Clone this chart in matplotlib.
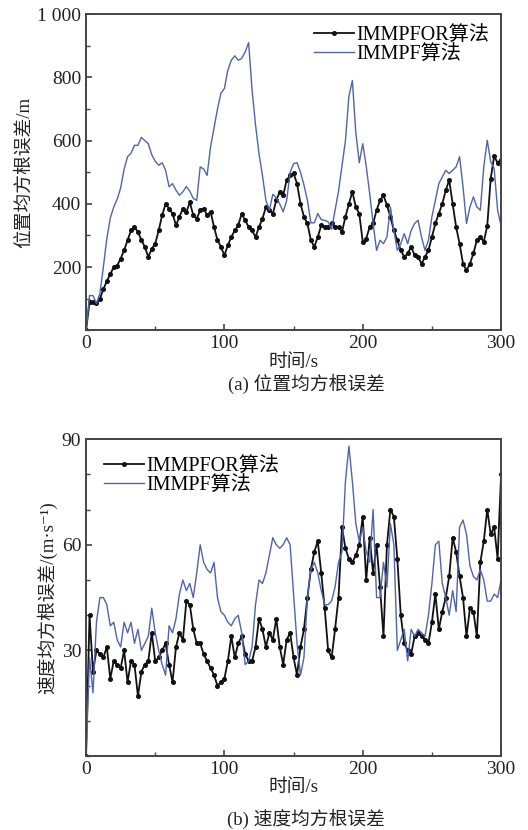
import numpy as np
import matplotlib
matplotlib.use("Agg")
import matplotlib.pyplot as plt
from matplotlib.ticker import MultipleLocator

plt.rcParams['font.family'] = ['Liberation Serif', 'Noto Sans CJK SC', 'DejaVu Sans']

# time axis, seconds (values read every 2.5 s)
t = np.arange(0, 300.1, 2.5)

# (a) position RMSE, m
pos_immpfor = [0, 90, 90, 85, 100, 130, 155, 178, 200, 205,
               227, 253, 285, 316, 327, 311, 285, 264, 232, 258,
               274, 316, 364, 400, 385, 369, 332, 359, 385, 374,
               405, 364, 353, 380, 385, 364, 375, 327, 285, 264,
               237, 269, 295, 316, 332, 369, 348, 327, 316, 295,
               327, 353, 390, 380, 369, 411, 438, 427, 475, 490,
               496, 464, 401, 359, 338, 285, 264, 295, 332, 327,
               327, 338, 327, 327, 311, 359, 400, 438, 390, 369,
               280, 290, 327, 338, 380, 411, 427, 395, 359, 316,
               285, 253, 232, 243, 264, 237, 232, 211, 232, 253,
               295, 338, 369, 400, 443, 475, 400, 327, 274, 211,
               190, 211, 243, 285, 295, 280, 330, 480, 550, 530,
               540]
pos_immpf = [0, 110, 110, 85, 116, 200, 290, 355, 390, 415,
             450, 510, 549, 560, 585, 585, 610, 600, 590, 555,
             535, 522, 530, 506, 454, 464, 443, 427, 438, 455,
             440, 417, 411, 517, 510, 490, 580, 640, 700, 750,
             765, 823, 854, 868, 854, 860, 880, 910, 760, 650,
             559, 490, 411, 380, 430, 420, 400, 375, 410, 500,
             527, 530, 500, 460, 411, 340, 340, 369, 350, 348,
             343, 320, 380, 440, 520, 600, 740, 790, 625, 530,
             590, 520, 433, 338, 253, 285, 274, 295, 390, 316,
             253, 274, 306, 274, 316, 338, 348, 295, 253, 285,
             359, 411, 464, 485, 506, 496, 506, 517, 549, 454,
             338, 390, 422, 390, 380, 517, 601, 533, 512, 380,
             330]

# (b) velocity RMSE, m/s
vel_immpfor = [0, 40, 24, 30, 29, 28, 31, 22, 27, 26,
               25, 30, 21, 27, 26, 17, 24, 26, 27, 35,
               27, 28, 30, 32, 26, 21, 31, 35, 33, 44,
               43, 36, 32, 32, 29, 27, 25, 23, 20, 21,
               22, 27, 34, 28, 32, 34, 29, 27, 27, 31,
               39, 36, 31, 35, 33, 39, 31, 26, 33, 35,
               28, 23, 31, 36, 45, 53, 58, 61, 52, 42,
               30, 28, 36, 45, 65, 59, 56, 55, 57, 60,
               68, 50, 62, 52, 60, 48, 34, 60, 70, 68,
               56, 40, 32, 30, 29, 34, 35, 34, 33, 32,
               38, 46, 36, 41, 45, 51, 62, 58, 51, 45,
               34, 42, 41, 34, 55, 61, 70, 63, 65, 56,
               80]
vel_immpf = [0, 28, 18, 38, 45, 45, 43, 37, 38, 33,
             31, 38, 35, 38, 32, 36, 30, 32, 34, 42,
             35, 30, 26, 23, 37, 35, 39, 46, 50, 47,
             49, 45, 52, 60, 55, 53, 52, 55, 45, 41,
             40, 38, 37, 39, 40, 35, 26, 27, 31, 43,
             50, 49, 52, 57, 62, 60, 59, 60, 62, 60,
             46, 32, 23, 28, 45, 53, 55, 52, 47, 43,
             43, 44, 48, 55, 58, 78, 88, 78, 66, 61,
             65, 58, 55, 70, 45, 45, 55, 48, 66, 60,
             30, 33, 36, 27, 36, 34, 36, 35, 34, 40,
             49, 60, 61, 49, 45, 40, 47, 41, 65, 67,
             63, 54, 51, 50, 53, 50, 44, 44, 46, 45,
             50]

black = '#111111'
blue = '#5064ac'
frame = '#444444'
txt = '#222222'

fig = plt.figure(figsize=(5.28, 8.3), dpi=100)
ax1 = fig.add_axes([0.163, 0.602, 0.786, 0.381])
ax2 = fig.add_axes([0.163, 0.089, 0.786, 0.382])


def style(ax):
    for s in ax.spines.values():
        s.set_color(frame)
        s.set_linewidth(1.4)
    ax.tick_params(which='both', direction='in', top=False, right=False,
                   colors=frame, labelcolor=txt, labelsize=14)
    ax.tick_params(which='major', length=4, width=1.2)
    ax.tick_params(which='minor', length=3, width=1.0)
    ax.set_xlim(0, 300)
    ax.xaxis.set_major_locator(MultipleLocator(100))
    ax.xaxis.set_minor_locator(MultipleLocator(50))
    ax.set_xlabel('时间/s', fontsize=13.5, color=txt, labelpad=1)


# top: position
ax1.plot(t, pos_immpfor, color=black, lw=1.3, marker='o', ms=2.6, label='IMMPFOR算法')
ax1.plot(t, pos_immpf, color=blue, lw=1.0, label='IMMPF算法')
style(ax1)
ax1.set_ylim(0, 1000)
ax1.set_yticks([200, 400, 600, 800, 1000])
ax1.set_yticklabels(['200', '400', '600', '800', '1 000'])
ax1.yaxis.set_minor_locator(MultipleLocator(100))
ax1.set_ylabel('位置均方根误差/m', fontsize=13.5, color=txt, labelpad=3)
ax1.legend(loc='upper right', frameon=False, fontsize=14.5, handlelength=2.0,
           handletextpad=0.1, borderaxespad=0.2, labelspacing=0.0)
fig.text(0.58, 0.537, '(a) 位置均方根误差', ha='center', va='center', fontsize=13.5, color=txt)

# bottom: velocity
ax2.plot(t, vel_immpfor, color=black, lw=1.3, marker='o', ms=2.6, label='IMMPFOR算法')
ax2.plot(t, vel_immpf, color=blue, lw=1.0, label='IMMPF算法')
style(ax2)
ax2.set_ylim(0, 90)
ax2.set_yticks([30, 60, 90])
ax2.yaxis.set_minor_locator(MultipleLocator(10))
ax2.set_ylabel('速度均方根误差/(m·s⁻¹)', fontsize=13.5, color=txt, labelpad=3)
ax2.legend(loc='upper left', frameon=False, fontsize=14.5, handlelength=2.0,
           handletextpad=0.1, borderaxespad=0.5, labelspacing=0.0)
fig.text(0.58, 0.014, '(b) 速度均方根误差', ha='center', va='center', fontsize=13.5, color=txt)

fig.savefig('out.png', dpi=100, facecolor='white')
